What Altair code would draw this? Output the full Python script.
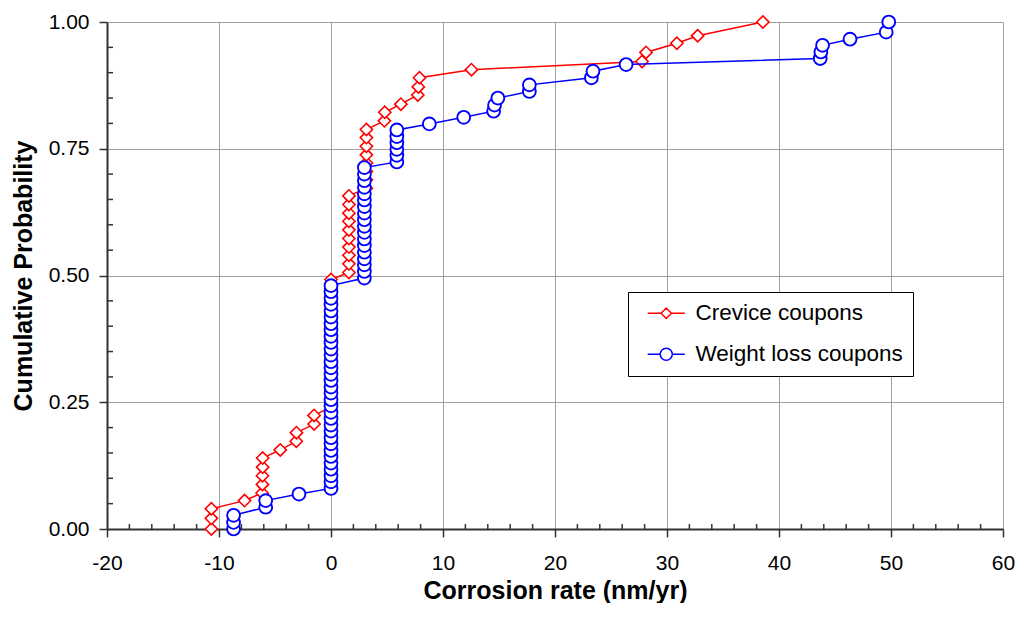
import altair as alt
import pandas as pd

# ---- data ----
series_names = ["Crevice coupons", "Weight loss coupons"]
series_colors = ["#ff0000", "#0000ff"]

crevice_rate = ([-10.68, -10.68, -10.68, -7.72,
                 -6.15, -6.12, -6.12, -6.1, -6.1,
                 -4.53, -3.1, -3.08, -1.51, -1.51]
                + [0.0] * 16
                + [1.6] * 10
                + [3.16] * 8
                + [4.77, 4.8, 6.24, 7.75, 7.8, 7.9, 12.54,
                   27.77, 28.13, 30.88, 32.74, 38.56])
crevice_prob = [0.000, 0.021, 0.040, 0.056,
                0.071, 0.088, 0.105, 0.122, 0.140,
                0.156, 0.173, 0.190, 0.207, 0.224,
                0.241, 0.258, 0.274, 0.291, 0.308, 0.325, 0.341, 0.358,
                0.375, 0.392, 0.408, 0.425, 0.442, 0.459, 0.475, 0.492,
                0.506, 0.523, 0.540, 0.556, 0.573, 0.590, 0.607, 0.623, 0.640, 0.657,
                0.672, 0.689, 0.705, 0.722, 0.738, 0.755, 0.772, 0.788,
                0.805, 0.822, 0.838, 0.856, 0.872, 0.890, 0.906,
                0.922, 0.940, 0.958, 0.973, 1.000]

weight_rate = ([-8.7, -8.7, -8.7, -5.83, -5.83, -2.86]
               + [0.0] * 33
               + [2.98] * 18
               + [5.88] * 6
               + [8.78, 11.85, 14.52, 14.6, 14.9, 17.71, 17.71, 23.25, 23.39,
                  26.35, 43.68, 43.74, 43.89, 46.34, 49.57, 49.8])
weight_prob = [0.000, 0.013, 0.027, 0.043, 0.056, 0.069,
               0.080, 0.093, 0.105, 0.118, 0.130, 0.143, 0.155, 0.168, 0.180,
               0.193, 0.205, 0.218, 0.230, 0.243, 0.255, 0.268, 0.280, 0.293,
               0.305, 0.318, 0.330, 0.343, 0.355, 0.368, 0.380, 0.393, 0.405,
               0.418, 0.430, 0.443, 0.455, 0.468, 0.480,
               0.495, 0.508, 0.521, 0.533, 0.546, 0.559, 0.572, 0.585, 0.597,
               0.610, 0.623, 0.636, 0.649, 0.661, 0.674, 0.687, 0.700, 0.713,
               0.724, 0.737, 0.749, 0.762, 0.774, 0.787,
               0.799, 0.812, 0.824, 0.836, 0.850, 0.863, 0.876, 0.890, 0.903,
               0.916, 0.928, 0.941, 0.954, 0.966, 0.980, 1.000]

x_ticks = [-20, -10, 0, 10, 20, 30, 40, 50, 60]
y_ticks = [0.0, 0.25, 0.5, 0.75, 1.0]
x_minor = [-18, -16, -14, -12, -8, -6, -4, -2, 2, 4, 6, 8, 12, 14, 16, 18,
           22, 24, 26, 28, 32, 34, 36, 38, 42, 44, 46, 48, 52, 54, 56, 58]
y_minor = [0.05, 0.1, 0.15, 0.2, 0.3, 0.35, 0.4, 0.45, 0.55, 0.6, 0.65,
           0.7, 0.8, 0.85, 0.9, 0.95]

# ---- tables ----
df = pd.concat([
    pd.DataFrame({"rate": crevice_rate, "prob": crevice_prob,
                  "series": series_names[0], "idx": range(len(crevice_rate))}),
    pd.DataFrame({"rate": weight_rate, "prob": weight_prob,
                  "series": series_names[1], "idx": range(len(weight_rate))}),
], ignore_index=True)
xminor_df = pd.DataFrame({"rate": x_minor})
yminor_df = pd.DataFrame({"prob": y_minor})

W, H = 896, 507
FONT = "Liberation Sans"
AXIS_COLOR = "#333333"

xscale = alt.Scale(domain=[-20, 60], nice=False, zero=False)
yscale = alt.Scale(domain=[0, 1], nice=False, zero=False)

X = alt.X("rate:Q", scale=xscale, title="Corrosion rate (nm/yr)",
          axis=alt.Axis(values=x_ticks, labelExpr="datum.value + ''",
                        labelPadding=15, titlePadding=5,
                        labelFlush=False, labelOverlap=False))
Y = alt.Y("prob:Q", scale=yscale, title="Cumulative Probability",
          axis=alt.Axis(values=y_ticks, format=".2f", labelPadding=10,
                        titlePadding=12, labelFlush=False, labelOverlap=False))

base = alt.Chart(df)

red = base.transform_filter(alt.datum.series == series_names[0])
blue = base.transform_filter(alt.datum.series == series_names[1])

red_line = red.mark_line(color=series_colors[0], strokeWidth=1.5).encode(
    x=X, y=Y, order="idx:Q")
red_pts = red.mark_point(shape="diamond", size=150, filled=True, fill="white",
                         stroke=series_colors[0], strokeWidth=1.6,
                         opacity=1).encode(x=X, y=Y)
blue_line = blue.mark_line(color=series_colors[1], strokeWidth=1.5).encode(
    x=X, y=Y, order="idx:Q")
blue_pts = blue.mark_point(shape="circle", size=165, filled=True, fill="white",
                           stroke=series_colors[1], strokeWidth=1.9,
                           opacity=1).encode(x=X, y=Y)

# legend symbols: line with marker in the middle (custom paths)
diamond_sym = "M-2.65,0L-0.74,0M0.74,0L2.65,0M-0.74,0L0,-0.74L0.74,0L0,0.74Z"
circle_sym = ("M-2.65,0L-0.86,0M0.86,0L2.65,0M-0.86,0"
              "A0.86,0.86,0,1,1,0.86,0A0.86,0.86,0,1,1,-0.86,0Z")

legend_def = alt.Legend(
    title=None, orient="none", legendX=521, legendY=270,
    padding=10, fillColor="white", strokeColor="black",
    labelFont=FONT, labelFontSize=22.5, labelColor="black", labelLimit=400,
    symbolSize=196, symbolStrokeWidth=1.5, symbolFillColor="white",
    symbolOffset=17, labelOffset=18, rowPadding=18,
)
legend_layer = base.transform_filter("datum.prob > 2").mark_point(
    filled=True, fill="white", strokeWidth=1.5, opacity=1).encode(
    x=X, y=Y,
    stroke=alt.Stroke("series:N",
                      scale=alt.Scale(domain=series_names, range=series_colors),
                      legend=legend_def),
    shape=alt.Shape("series:N",
                    scale=alt.Scale(domain=series_names,
                                    range=[diamond_sym, circle_sym]),
                    legend=legend_def),
)

xminor = alt.Chart(xminor_df).mark_rule(color=AXIS_COLOR, strokeWidth=1.5).encode(
    x=X, y=alt.value(H), y2=alt.value(H - 5))
yminor = alt.Chart(yminor_df).mark_rule(color=AXIS_COLOR, strokeWidth=1.5).encode(
    y=Y, x=alt.value(0), x2=alt.value(6))

chart = alt.layer(
    xminor, yminor, red_line, red_pts, blue_line, blue_pts, legend_layer
).properties(
    width=W, height=H,
    padding={"left": 3, "top": 3, "right": 0, "bottom": 0},
).configure_view(
    strokeWidth=0
).configure_axis(
    labelFont=FONT, labelFontSize=21, labelColor="black",
    titleFont=FONT, titleFontSize=25, titleFontWeight="bold", titleColor="black",
    domainColor=AXIS_COLOR, domainWidth=2,
    tickColor=AXIS_COLOR, tickWidth=1.5, tickSize=8,
    grid=True, gridColor="#a0a0a0", gridWidth=1,
)

chart.save("out.html", embed_options={"renderer": "svg", "actions": False})
